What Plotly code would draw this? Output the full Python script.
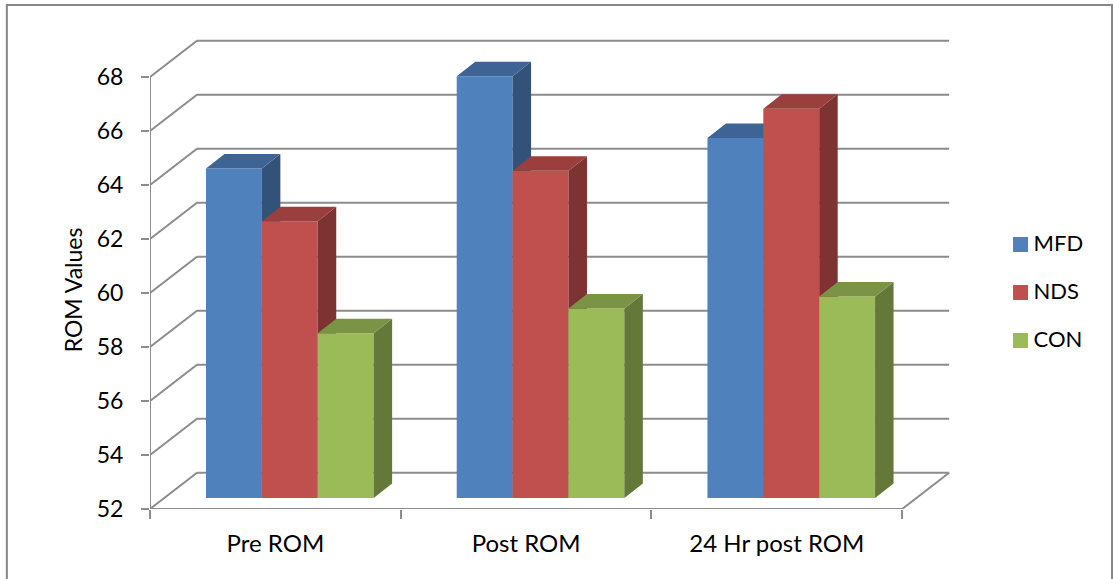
import plotly.graph_objects as go

# ---- data ----
categories = ["Pre ROM", "Post ROM", "24 Hr post ROM"]
series_names = ["MFD", "NDS", "CON"]
mfd_values = [64.2, 67.62, 65.33]
nds_values = [62.25, 64.12, 66.42]
con_values = [58.1, 59.02, 59.46]
y_ticks = [52, 54, 56, 58, 60, 62, 64, 66, 68]

series_values = [mfd_values, nds_values, con_values]
front_colors = ["#4F81BD", "#C0504D", "#9BBB59"]
top_colors = ["#3E6496", "#9A3F3D", "#7A9344"]
side_colors = ["#32527A", "#7D3331", "#64783A"]

# ---- geometry (pixels of the 1113x579 page) ----
W, H = 1113, 579
X0, Y0 = 149.7, 509          # front-left-bottom corner of the axes
PX_PER_CAT = 250.8
PX_PER_UNIT = 27.0
px_dx = lambda p: p / PX_PER_CAT
px_dy = lambda p: p / PX_PER_UNIT
to_x = lambda p: (p - X0) / PX_PER_CAT
to_y = lambda p: y_ticks[0] + (Y0 - p) / PX_PER_UNIT

x_range = [0, (W - X0) / PX_PER_CAT]
y_range = [y_ticks[0], to_y(0)]

WALL_DX, WALL_DY = px_dx(47), px_dy(36.3)
BAR_LEFT = px_dx(56)
BAR_W = px_dx(55.9)
BAR_DX, BAR_DY = px_dx(18.5), px_dy(14.5)
BAR_FLOOR = px_dy(11)         # front plane of the bars sits inside the floor
GRID = "#8C8C8C"
FONT = "Lato"
TXT = "#000000"
n_cat = len(categories)

fig = go.Figure()

# walls, gridlines and floor
gx, gy = [], []
for v in y_ticks:
    gx += [0, WALL_DX, n_cat + WALL_DX, None]
    gy += [v, v + WALL_DY, v + WALL_DY, None]
gx += [n_cat, n_cat + WALL_DX, None, 0, 0, None, 0, n_cat]
gy += [y_ticks[0], y_ticks[0] + WALL_DY, None, y_ticks[0], y_ticks[-1], None, y_ticks[0], y_ticks[0]]
fig.add_trace(go.Scatter(x=gx, y=gy, mode="lines", line=dict(color=GRID, width=2),
                         hoverinfo="skip", showlegend=False, cliponaxis=False))

# one overlaying axis pair per series, so later series paint over earlier ones
for j, (name, vals) in enumerate(zip(series_names, series_values)):
    xa, ya = f"x{j + 2}", f"y{j + 2}"
    base = y_ticks[0] + BAR_FLOOR
    lefts = [i + BAR_LEFT + j * BAR_W for i in range(n_cat)]
    fig.add_trace(go.Bar(
        x=[l + BAR_W / 2 for l in lefts], y=[v - y_ticks[0] for v in vals], base=base, width=BAR_W,
        name=name, marker=dict(color=front_colors[j], line=dict(width=0)),
        xaxis=xa, yaxis=ya, showlegend=False))
    sx, sy, tx, ty = [], [], [], []
    for l, v in zip(lefts, vals):
        top = v + BAR_FLOOR
        r = l + BAR_W
        sx += [r, r + BAR_DX, r + BAR_DX, r, r, None]
        sy += [top, top + BAR_DY, base + BAR_DY, base, top, None]
        tx += [l, l + BAR_DX, r + BAR_DX, r, l, None]
        ty += [top, top + BAR_DY, top + BAR_DY, top, top, None]
    for px_, py_, col in ((sx, sy, side_colors[j]), (tx, ty, top_colors[j])):
        fig.add_trace(go.Scatter(x=px_, y=py_, mode="lines", fill="toself", fillcolor=col,
                                 line=dict(width=0), xaxis=xa, yaxis=ya,
                                 hoverinfo="skip", showlegend=False))

# legend
legend_y_px = [244.5, 292.5, 340.5]
for name, col, py in zip(series_names, front_colors, legend_y_px):
    fig.add_trace(go.Scatter(
        x=[to_x(1020.5)], y=[to_y(py)], mode="markers",
        marker=dict(symbol="square", size=15, color=col, line=dict(width=0)),
        xaxis="x4", yaxis="y4", hoverinfo="skip", showlegend=False, cliponaxis=False))
    fig.add_trace(go.Scatter(
        x=[to_x(1033.5)], y=[to_y(py + 1)], mode="text", text=[name],
        textposition="middle right", textfont=dict(family=FONT, size=22, color=TXT),
        xaxis="x4", yaxis="y4", hoverinfo="skip", showlegend=False, cliponaxis=False))

axis_common = dict(visible=False, fixedrange=True)
fig.update_layout(
    width=W, height=H,
    margin=dict(l=X0, r=0, t=0, b=H - Y0, pad=0, autoexpand=False),
    paper_bgcolor="white", plot_bgcolor="white",
    barmode="overlay", showlegend=False,
    font=dict(family=FONT, size=24, color=TXT),
    xaxis=dict(range=x_range, showgrid=False, zeroline=False, showline=False,
               tickmode="array", tickvals=[i + 0.5 for i in range(n_cat)], ticktext=categories,
               ticks="", ticklabelstandoff=18, tickfont=dict(family=FONT, size=24, color=TXT),
               minor=dict(tickmode="array", tickvals=list(range(n_cat + 1)), ticks="outside",
                          ticklen=9, tickwidth=2, tickcolor=GRID, showgrid=False)),
    yaxis=dict(range=y_range, showgrid=False, zeroline=False, showline=False,
               tickmode="array", tickvals=y_ticks, ticks="outside", ticklen=8, tickwidth=2,
               tickcolor=GRID, ticklabelstandoff=13, tickfont=dict(family=FONT, size=23, color=TXT)),
)
for j in range(len(series_names)):
    fig.update_layout({f"xaxis{j + 2}": dict(overlaying="x", range=x_range, anchor=f"y{j + 2}", **axis_common),
                       f"yaxis{j + 2}": dict(overlaying="y", range=y_range, anchor=f"x{j + 2}", **axis_common)})

fig.add_annotation(text="ROM Values", xref="paper", yref="paper",
                   x=(73 - X0) / (W - X0), y=(Y0 - 290) / Y0, xanchor="center", yanchor="middle",
                   textangle=-90, showarrow=False,
                   font=dict(family=FONT, size=23, color=TXT))

fig.add_shape(type="rect", xref="paper", yref="paper",
              x0=(6.5 - X0) / (W - X0), x1=(1112 - X0) / (W - X0),
              y0=(Y0 - 600) / Y0, y1=(Y0 - 5) / Y0,
              line=dict(color="#878787", width=2), fillcolor="rgba(0,0,0,0)", layer="above")

fig.write_html("out.html", post_script="document.body.style.margin='0';document.body.style.overflow='hidden';",
               config={"displayModeBar": False})
